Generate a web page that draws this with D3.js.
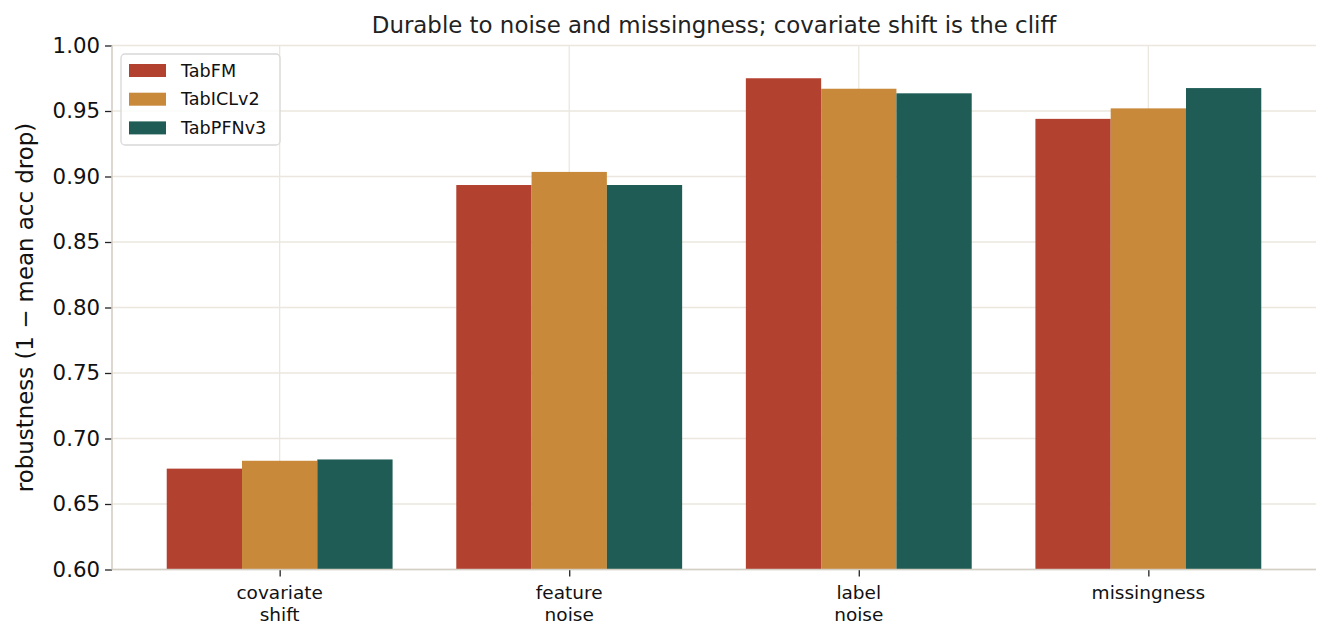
<!DOCTYPE html>
<html><head><meta charset="utf-8">
<script src="https://cdn.jsdelivr.net/npm/d3@7/dist/d3.min.js"></script>
<style>body{margin:0;background:#fff;} svg{display:block;font-family:"DejaVu Sans",sans-serif;}</style>
</head><body>
<svg id="c" width="1330" height="640"></svg>
<script>
const categories = ["covariate\nshift", "feature\nnoise", "label\nnoise", "missingness"];
const seriesNames = ["TabFM", "TabICLv2", "TabPFNv3"];
const tabFM    = [0.677, 0.8935, 0.975, 0.944];
const tabICLv2 = [0.683, 0.9035, 0.967, 0.952];
const tabPFNv3 = [0.684, 0.8935, 0.9635, 0.9675];
const colors = ["#b34130", "#c8893a", "#1f5c55"];
const yTicks = [0.60, 0.65, 0.70, 0.75, 0.80, 0.85, 0.90, 0.95, 1.00];
const title = "Durable to noise and missingness; covariate shift is the cliff";
const yLabel = "robustness (1 \u2212 mean acc drop)";

const series = [tabFM, tabICLv2, tabPFNv3];
const svg = d3.select("#c");
const L = 112, R = 1316, T = 45.5, B = 569.5;
const barW = 0.26;
const x = d3.scaleLinear().domain([-0.579, 3.579]).range([L, R]);
const y = d3.scaleLinear().domain([0.60, 1.00]).range([B, T]);

const grid = svg.append("g");
grid.selectAll("line.h").data(yTicks).join("line")
  .attr("x1", L).attr("x2", R).attr("y1", d => y(d)).attr("y2", d => y(d))
  .attr("stroke", "#ebe7de").attr("stroke-width", 1.3);
grid.selectAll("line.v").data(categories).join("line")
  .attr("x1", (d, i) => x(i)).attr("x2", (d, i) => x(i)).attr("y1", T).attr("y2", B)
  .attr("stroke", "#ebe7de").attr("stroke-width", 1.3);

series.forEach((vals, s) => {
  svg.append("g").selectAll("rect").data(vals).join("rect")
    .attr("x", (d, i) => x(i + (s - 1) * barW - barW / 2))
    .attr("width", x(barW) - x(0))
    .attr("y", d => y(d))
    .attr("height", d => y(0.60) - y(d))
    .attr("fill", colors[s]);
});

// y axis
const yAxis = d3.axisLeft(y).tickValues(yTicks).tickFormat(d3.format(".2f")).tickSize(7).tickPadding(5);
const ga = svg.append("g").attr("transform", `translate(${L},0)`).call(yAxis);
ga.select(".domain").remove();
ga.selectAll(".tick line").attr("stroke", "#222").attr("stroke-width", 1.3);
ga.selectAll(".tick text").attr("font-size", 21.3).attr("fill", "#111").attr("font-family", "DejaVu Sans");

// x axis
const xAxis = d3.axisBottom(x).tickValues(d3.range(categories.length)).tickFormat("").tickSize(7);
const gx = svg.append("g").attr("transform", `translate(0,${B})`).call(xAxis);
gx.select(".domain").remove();
gx.selectAll(".tick line").attr("stroke", "#222").attr("stroke-width", 1.3);
categories.forEach((c, i) => {
  const t = svg.append("text").attr("x", x(i)).attr("y", 598.5).attr("text-anchor", "middle")
    .attr("font-size", 18.5).attr("fill", "#111");
  c.split("\n").forEach((ln, j) => t.append("tspan").attr("x", x(i)).attr("dy", j ? 22 : 0).text(ln));
});

// spines
svg.append("line").attr("x1", L).attr("x2", L).attr("y1", T).attr("y2", B).attr("stroke", "#d3cfc4").attr("stroke-width", 1.6);
svg.append("line").attr("x1", L).attr("x2", R).attr("y1", B).attr("y2", B).attr("stroke", "#d3cfc4").attr("stroke-width", 1.6);

// title & y label
svg.append("text").attr("x", (L + R) / 2).attr("y", 33).attr("text-anchor", "middle")
  .attr("font-size", 22.9).attr("fill", "#222").text(title);
svg.append("text").attr("transform", `translate(33,${(T + B) / 2}) rotate(-90)`).attr("text-anchor", "middle")
  .attr("font-size", 22.9).attr("fill", "#111").text(yLabel);

// legend
const lg = svg.append("g");
lg.append("rect").attr("x", 121).attr("y", 54).attr("width", 159).attr("height", 91).attr("rx", 4)
  .attr("fill", "#fff").attr("fill-opacity", 0.8).attr("stroke", "#d8d8d8").attr("stroke-width", 1.3);
seriesNames.forEach((n, i) => {
  const cy = 70.5 + i * 28.7;
  lg.append("rect").attr("x", 129).attr("y", cy - 6.5).attr("width", 37).attr("height", 13).attr("fill", colors[i]);
  lg.append("text").attr("x", 181).attr("y", cy + 6.2).attr("font-size", 17.6).attr("fill", "#111").text(n);
});
</script>
</body></html>
